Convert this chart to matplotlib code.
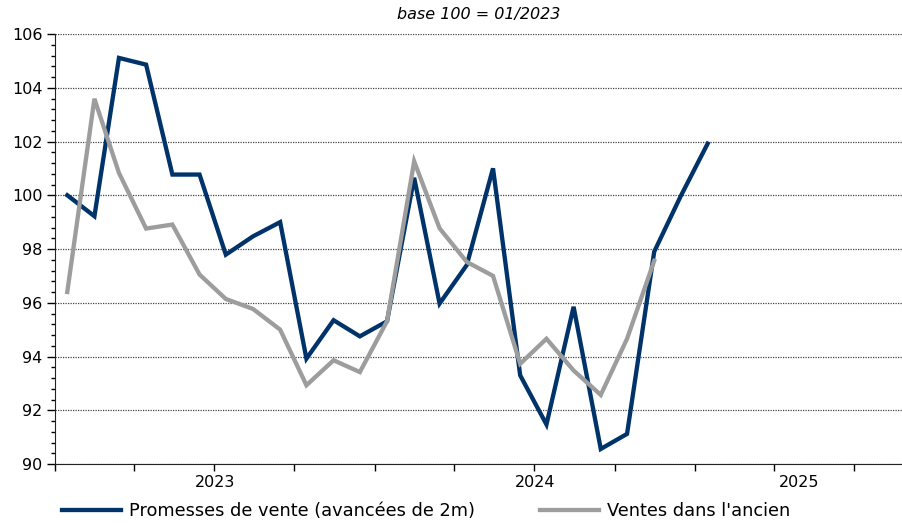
import matplotlib
matplotlib.use("Agg")
import matplotlib.pyplot as plt
import matplotlib.dates as mdates
import numpy as np
import pandas as pd

# monthly index, base 100 = 01/2023
promesses = [100.0, 99.22, 105.11, 104.86, 100.77, 100.77, 97.79, 98.47, 99.0,
             93.92, 95.35, 94.75, 95.31, 100.65, 95.97, 97.4, 101.0, 93.3,
             91.47, 95.85, 90.56, 91.12, 97.9, 99.95, 101.92]
ventes = [96.4, 103.59, 100.83, 98.76, 98.91, 97.05, 96.14, 95.77, 95.0,
          92.93, 93.86, 93.42, 95.31, 101.26, 98.77, 97.52, 97.0, 93.73,
          94.66, 93.48, 92.57, 94.66, 97.56]
label_promesses = "Promesses de vente (avancées de 2m)"
label_ventes = "Ventes dans l'ancien"
title = "base 100 = 01/2023"
years = [2023, 2024, 2025]

months = pd.date_range("2023-01-01", periods=len(promesses), freq="MS") + pd.Timedelta(days=14)

blue = "#00336a"
grey = "#9d9d9d"

fig = plt.figure(figsize=(9.03, 5.23), dpi=100)
ax = fig.add_axes([55 / 903, 1 - 464 / 523, 1 - 55 / 903, (464 - 34) / 523])

ax.plot(months, promesses, color=blue, lw=3.1, label=label_promesses, solid_joinstyle="miter")
ax.plot(months[:len(ventes)], ventes, color=grey, lw=3.1, label=label_ventes, solid_joinstyle="miter")

xmin = pd.Timestamp("2023-01-01")
xmax = xmin + pd.Timedelta(days=968)
ax.set_xlim(xmin, xmax)
ax.set_ylim(90, 106)

# y axis
ax.set_yticks(np.arange(90, 107, 2))
ax.set_yticks(np.arange(90, 106.01, 0.4), minor=True)
ax.tick_params(axis="y", which="major", length=6, width=1, direction="out", labelsize=11.5, pad=3)
ax.tick_params(axis="y", which="minor", length=3, width=1, direction="out")
ax.yaxis.grid(True, which="major", linestyle=(0, (1, 1)), color="#444444", lw=0.9)

# x axis: quarter ticks, year labels centred on visible part of each year
ax.xaxis.set_major_locator(mdates.MonthLocator(bymonth=[1, 4, 7, 10]))
ax.xaxis.set_major_formatter(plt.NullFormatter())
centres = []
for y in years:
    a = max(pd.Timestamp(f"{y}-01-01"), xmin)
    b = min(pd.Timestamp(f"{y + 1}-01-01"), xmax)
    centres.append(a + (b - a) / 2)
ax.set_xticks(centres, minor=True)
ax.set_xticklabels([str(y) for y in years], minor=True)
ax.tick_params(axis="x", which="major", length=5, width=1, direction="out")
ax.tick_params(axis="x", which="minor", length=0, labelsize=11.5, pad=8)

for s in ["top", "right"]:
    ax.spines[s].set_visible(False)
ax.spines["left"].set_color("#222222")
ax.spines["bottom"].set_color("#222222")

fig.text(479 / 903, 1 - 15 / 523, title, ha="center", va="center",
         fontsize=11.5, style="italic")

fig.legend(loc="center left", bbox_to_anchor=(62 / 903, 12 / 523), ncol=2,
           frameon=False, fontsize=12.8, handlelength=3.3, handletextpad=0.45,
           columnspacing=3.7, borderpad=0, borderaxespad=0)

fig.savefig("out.png", dpi=100)
